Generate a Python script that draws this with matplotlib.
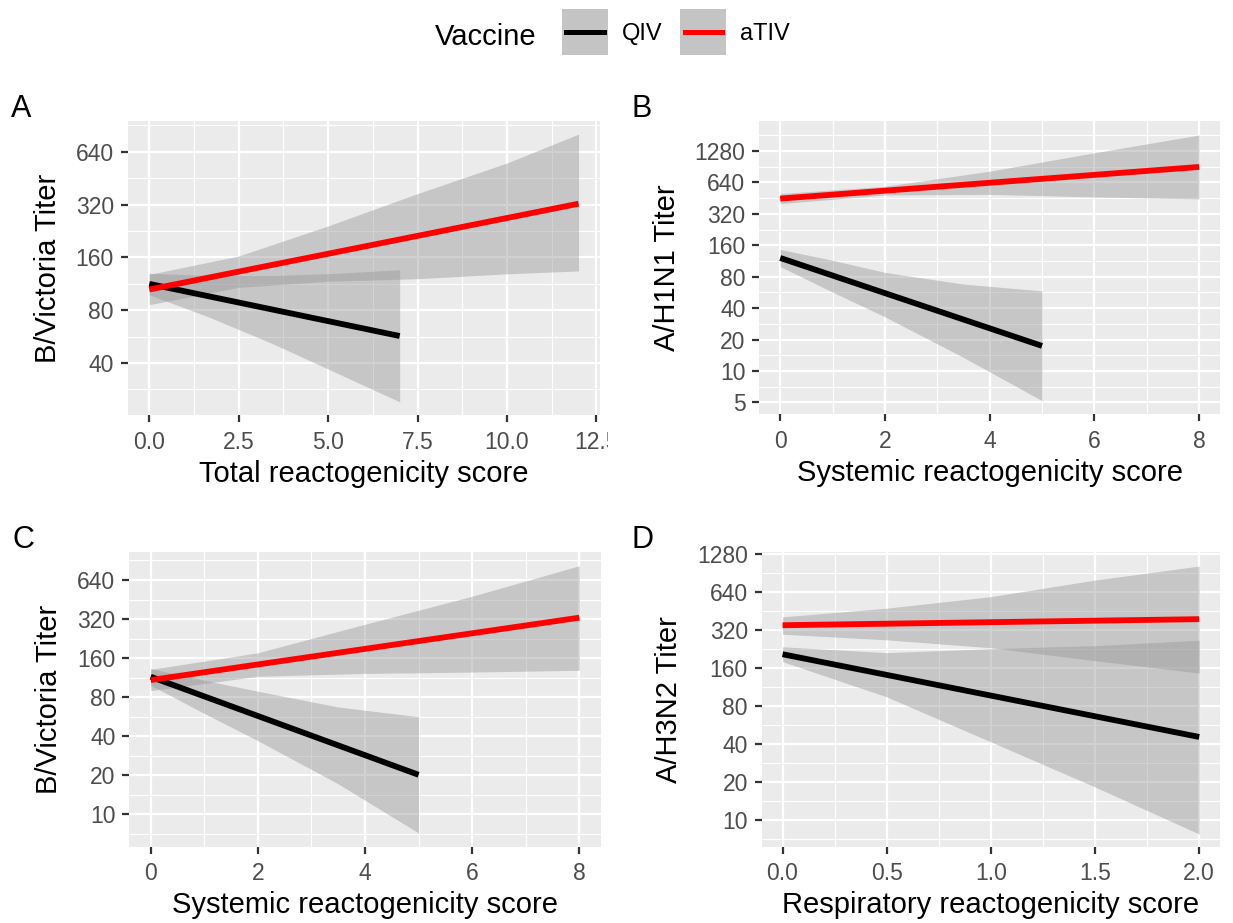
import numpy as np
import matplotlib
matplotlib.use("Agg")
import matplotlib.pyplot as plt
from matplotlib.lines import Line2D
from matplotlib.ticker import FixedLocator, NullFormatter
from matplotlib.transforms import Bbox, TransformedBbox

plt.rcParams['font.family'] = ['Liberation Sans', 'DejaVu Sans']

# panel text
panel_tags = ['A', 'B', 'C', 'D']
x_titles = ['Total reactogenicity score', 'Systemic reactogenicity score',
            'Systemic reactogenicity score', 'Respiratory reactogenicity score']
y_titles = ['B/Victoria Titer', 'A/H1N1 Titer', 'B/Victoria Titer', 'A/H3N2 Titer']
x_breaks = [[0, 2.5, 5, 7.5, 10, 12.5], [0, 2, 4, 6, 8], [0, 2, 4, 6, 8], [0, 0.5, 1, 1.5, 2]]
x_ticklabels = [['0.0', '2.5', '5.0', '7.5', '10.0', '12.5'], ['0', '2', '4', '6', '8'],
                ['0', '2', '4', '6', '8'], ['0.0', '0.5', '1.0', '1.5', '2.0']]
y_breaks = [[40, 80, 160, 320, 640],
            [5, 10, 20, 40, 80, 160, 320, 640, 1280],
            [10, 20, 40, 80, 160, 320, 640],
            [10, 20, 40, 80, 160, 320, 640, 1280]]

# fitted lines (QIV black, aTIV red)
qiv_x = [[0, 7], [0, 5], [0, 5], [0, 2]]
qiv_y = [[113, 57], [121, 17.4], [115, 20.2], [206, 45.4]]
ativ_x = [[0, 12], [0, 8], [0, 8], [0, 2]]
ativ_y = [[105, 324], [448, 900], [108.5, 328], [350, 391]]

# confidence bands
qiv_band_x = [[0, 1.75, 3.5, 5.25, 7], [0, 1, 2, 3.5, 5], [0, 1, 2, 3.5, 5], [0, 0.5, 1, 1.5, 2]]
qiv_lo = [[98, 72, 51, 35, 24], [100, 57, 33, 13.5, 5.2],
          [99, 60, 37, 17.2, 7.2], [180, 94.5, 41.5, 18.2, 7.7]]
qiv_hi = [[130, 126, 126, 130, 136], [146, 115, 88, 68, 58.5],
          [133, 108, 89, 67.3, 56.6], [236, 212, 228, 241, 266]]
ativ_band_x = [[0, 2.5, 5, 7.5, 10, 12], [0, 2, 4, 6, 8], [0, 2, 4, 6, 8], [0, 0.5, 1, 1.5, 2]]
ativ_lo = [[86, 108, 117, 121, 129, 134], [401, 485, 492, 465, 445],
           [90, 116, 122, 125, 129], [297, 268, 232, 183, 146]]
ativ_hi = [[128, 163, 242, 370, 553, 808], [500, 588, 820, 1230, 1820],
           [131, 176, 292, 480, 825], [408, 478, 590, 799, 1032]]

# layout
W, H = 1233, 923
xlims = [(-0.6, 12.6), (-0.4, 8.4), (-0.4, 8.4), (-0.1, 2.1)]
ylims = [(20.2, 960), (3.85, 2480), (5.66, 1058), (6.13, 1342)]
rects_px = [(127.8, 121, 600, 415), (759.3, 121, 1220, 414.3),
            (129.3, 551.7, 600.7, 846.5), (761.7, 551.7, 1220, 846.5)]
tag_pos_px = [(11, 116.7), (632, 116.7), (12, 548.5), (632, 547.5)]

fig = plt.figure(figsize=(W / 100, H / 100), dpi=100)

band_col = '#999999'
for i in range(4):
    l, t, r, b = rects_px[i]
    ax = fig.add_axes([l / W, 1 - b / H, (r - l) / W, (b - t) / H])
    ax.set_facecolor('#EBEBEB')
    ax.set_yscale('log', base=2)

    ax.fill_between(qiv_band_x[i], qiv_lo[i], qiv_hi[i], color=band_col, alpha=0.45, lw=0)
    ax.plot(qiv_x[i], qiv_y[i], color='black', lw=4.2, solid_capstyle='butt')
    ax.fill_between(ativ_band_x[i], ativ_lo[i], ativ_hi[i], color=band_col, alpha=0.45, lw=0)
    ax.plot(ativ_x[i], ativ_y[i], color='#FF0000', lw=4.2, solid_capstyle='butt')

    ax.set_xlim(xlims[i])
    ax.set_ylim(ylims[i])
    ax.set_xticks(x_breaks[i], x_ticklabels[i])
    ax.set_yticks(y_breaks[i], [str(v) for v in y_breaks[i]])

    yb = np.array(y_breaks[i], dtype=float)
    y_minor = np.concatenate([[yb[0] / np.sqrt(2)], np.sqrt(yb[:-1] * yb[1:]), [yb[-1] * np.sqrt(2)]])
    xb = np.array(x_breaks[i], dtype=float)
    step = xb[1] - xb[0]
    x_minor = np.concatenate([[xb[0] - step / 2], (xb[:-1] + xb[1:]) / 2, [xb[-1] + step / 2]])
    ax.yaxis.set_minor_locator(FixedLocator(y_minor))
    ax.yaxis.set_minor_formatter(NullFormatter())
    ax.xaxis.set_minor_locator(FixedLocator(x_minor))

    ax.grid(which='major', color='white', lw=1.6)
    ax.grid(which='minor', color='white', lw=0.8)
    ax.set_axisbelow(True)
    for s in ax.spines.values():
        s.set_visible(False)

    ax.tick_params(which='minor', length=0)
    ax.tick_params(axis='x', which='major', length=5, width=1.6, color='#333333',
                   pad=6.5, labelsize=16.5, labelcolor='#4D4D4D')
    ax.tick_params(axis='y', which='major', length=5, width=1.6, color='#333333',
                   pad=5, labelsize=16.5, labelcolor='#4D4D4D')

    ax.set_xlabel(x_titles[i], fontsize=21, labelpad=4)
    ax.set_ylabel(y_titles[i], fontsize=21, labelpad=10)

    fig.text(tag_pos_px[i][0] / W, 1 - tag_pos_px[i][1] / H, panel_tags[i],
             fontsize=22, va='baseline', ha='left')

    if i == 0:
        # the last tick label is cut at the panel border in the original
        clip = TransformedBbox(Bbox([[0, 0], [608 / W, 1]]), fig.transFigure)
        for lbl in ax.get_xticklabels():
            lbl.set_clip_on(True)
            lbl.set_clip_box(clip)

# legend on top
key_qiv = (Line2D([], [], marker='s', ms=33.6, mew=0, color='#C4C4C4', ls='none'),
           Line2D([], [], color='black', lw=3.6))
key_ativ = (Line2D([], [], marker='s', ms=33.6, mew=0, color='#C4C4C4', ls='none'),
            Line2D([], [], color='#FF0000', lw=3.6))
fig.legend(handles=[key_qiv, key_ativ], labels=['QIV', 'aTIV'], ncol=2,
           loc='center left', bbox_to_anchor=(566 / W, 1 - 34 / H),
           frameon=False, fontsize=17, handlelength=1.6, handletextpad=0.75,
           columnspacing=0.95, borderpad=0, borderaxespad=0)
fig.text(435 / W, 1 - 45 / H, 'Vaccine', fontsize=21, va='baseline', ha='left')

fig.savefig('out.png', dpi=100)
